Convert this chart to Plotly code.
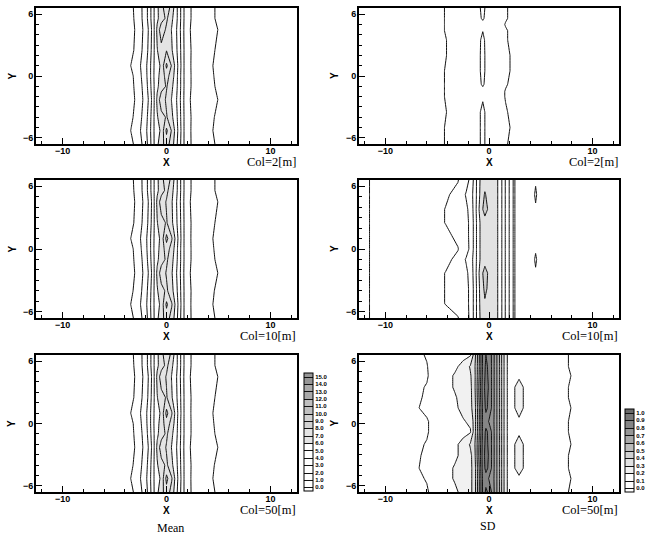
import plotly.graph_objects as go

W, H = 647, 535

# ---------------- data ----------------
MEAN_X = [-12.6, -4.0, -3.4, -2.8, -2.2, -1.7, -1.3, -0.9, -0.5, 0.0, 0.5, 0.9, 1.3, 1.7, 2.2, 3.0, 4.0, 5.2, 12.6]
MEAN_Y = [-6.6, -5.3, -4.0, -2.3, -1.0, 0.0, 1.0, 2.5, 4.5, 5.6, 6.6]

MEAN_COL2 = [
    [0.05, 0.3, 0.75, 1.45, 2.2, 3.3, 4.7, 5.8, 6.6, 7.5, 6.5, 5.4, 4.2, 2.95, 2.1, 1.6, 1.3, 0.75, 0.05],
    [0.05, 0.35, 1.05, 1.6, 2.4, 3.4, 4.8, 5.6, 6.2, 8.2, 6.9, 5.6, 4.3, 2.95, 2.1, 1.55, 1.25, 0.6, 0.05],
    [0.05, 0.3, 0.8, 1.45, 2.25, 3.3, 4.7, 5.9, 6.6, 7.1, 6.2, 5.4, 4.2, 2.95, 2.1, 1.6, 1.3, 0.7, 0.05],
    [0.05, 0.3, 0.6, 1.3, 2.1, 3.1, 4.5, 6.2, 7.7, 6.8, 5.95, 5.2, 4.1, 2.9, 2.05, 1.6, 1.35, 0.9, 0.05],
    [0.05, 0.3, 0.7, 1.4, 2.2, 3.3, 4.7, 5.8, 6.5, 7.1, 6.2, 5.4, 4.2, 2.95, 2.1, 1.6, 1.3, 0.75, 0.05],
    [0.05, 0.3, 0.75, 1.5, 2.3, 3.4, 4.8, 5.7, 6.4, 7.4, 6.5, 5.5, 4.2, 2.95, 2.1, 1.6, 1.3, 0.65, 0.05],
    [0.05, 0.35, 1.05, 1.6, 2.4, 3.4, 4.8, 5.6, 6.2, 8.2, 6.9, 5.6, 4.3, 2.95, 2.1, 1.55, 1.25, 0.6, 0.05],
    [0.05, 0.3, 0.7, 1.4, 2.2, 3.2, 4.6, 5.95, 6.6, 6.95, 6.1, 5.3, 4.2, 2.95, 2.1, 1.6, 1.3, 0.75, 0.05],
    [0.05, 0.3, 0.6, 1.3, 2.1, 3.1, 4.5, 6.2, 7.7, 6.8, 5.95, 5.2, 4.1, 2.9, 2.05, 1.6, 1.35, 0.9, 0.05],
    [0.05, 0.3, 0.7, 1.4, 2.2, 3.3, 4.7, 5.8, 6.5, 7.2, 6.2, 5.4, 4.2, 2.95, 2.1, 1.6, 1.3, 0.75, 0.05],
    [0.05, 0.3, 0.75, 1.45, 2.2, 3.3, 4.7, 5.8, 6.6, 7.6, 6.6, 5.4, 4.2, 2.95, 2.1, 1.6, 1.3, 0.75, 0.05],
]

MEAN_COL10 = [
    [0.05, 0.3, 0.75, 1.45, 2.2, 3.3, 4.7, 5.8, 6.6, 7.5, 6.6, 5.5, 4.2, 2.95, 2.1, 1.6, 1.3, 0.75, 0.05],
    [0.05, 0.35, 1.05, 1.6, 2.4, 3.4, 4.8, 5.6, 6.3, 8.2, 7.1, 5.7, 4.3, 2.95, 2.1, 1.55, 1.25, 0.6, 0.05],
    [0.05, 0.3, 0.8, 1.45, 2.25, 3.3, 4.7, 5.9, 6.6, 7.2, 6.3, 5.4, 4.2, 2.95, 2.1, 1.6, 1.3, 0.7, 0.05],
    [0.05, 0.3, 0.6, 1.3, 2.1, 3.1, 4.5, 6.2, 7.6, 6.9, 6.1, 5.2, 4.1, 2.9, 2.05, 1.6, 1.35, 0.9, 0.05],
    [0.05, 0.3, 0.7, 1.4, 2.2, 3.3, 4.7, 5.8, 6.5, 7.2, 6.3, 5.4, 4.2, 2.95, 2.1, 1.6, 1.3, 0.75, 0.05],
    [0.05, 0.3, 0.75, 1.5, 2.3, 3.4, 4.8, 5.7, 6.4, 7.5, 6.6, 5.5, 4.2, 2.95, 2.1, 1.6, 1.3, 0.65, 0.05],
    [0.05, 0.35, 1.05, 1.6, 2.4, 3.4, 4.8, 5.6, 6.3, 8.3, 7.1, 5.7, 4.3, 2.95, 2.1, 1.55, 1.25, 0.6, 0.05],
    [0.05, 0.3, 0.7, 1.4, 2.2, 3.2, 4.6, 5.95, 6.6, 7.1, 6.2, 5.3, 4.2, 2.95, 2.1, 1.6, 1.3, 0.75, 0.05],
    [0.05, 0.3, 0.6, 1.3, 2.1, 3.1, 4.5, 6.2, 7.6, 6.9, 6.1, 5.2, 4.1, 2.9, 2.05, 1.6, 1.35, 0.9, 0.05],
    [0.05, 0.3, 0.7, 1.4, 2.2, 3.3, 4.7, 5.8, 6.5, 7.3, 6.3, 5.4, 4.2, 2.95, 2.1, 1.6, 1.3, 0.75, 0.05],
    [0.05, 0.3, 0.75, 1.45, 2.2, 3.3, 4.7, 5.8, 6.6, 7.6, 6.7, 5.4, 4.2, 2.95, 2.1, 1.6, 1.3, 0.75, 0.05],
]

MEAN_COL50 = [
    [0.05, 0.3, 0.75, 1.45, 2.2, 3.3, 4.7, 5.8, 6.6, 7.6, 6.6, 5.4, 4.2, 2.95, 2.1, 1.6, 1.3, 0.75, 0.05],
    [0.05, 0.35, 1.05, 1.6, 2.4, 3.4, 4.8, 5.6, 6.2, 8.3, 7.1, 5.6, 4.3, 2.95, 2.1, 1.55, 1.25, 0.6, 0.05],
    [0.05, 0.3, 0.8, 1.45, 2.25, 3.3, 4.7, 5.9, 6.6, 7.2, 6.2, 5.4, 4.2, 2.95, 2.1, 1.6, 1.3, 0.7, 0.05],
    [0.05, 0.3, 0.6, 1.3, 2.1, 3.1, 4.5, 6.2, 7.6, 6.9, 5.95, 5.2, 4.1, 2.9, 2.05, 1.6, 1.35, 0.9, 0.05],
    [0.05, 0.3, 0.7, 1.4, 2.2, 3.3, 4.7, 5.8, 6.5, 7.2, 6.2, 5.4, 4.2, 2.95, 2.1, 1.6, 1.3, 0.75, 0.05],
    [0.05, 0.3, 0.75, 1.5, 2.3, 3.4, 4.8, 5.7, 6.4, 7.6, 6.6, 5.5, 4.2, 2.95, 2.1, 1.6, 1.3, 0.65, 0.05],
    [0.05, 0.35, 1.05, 1.6, 2.4, 3.4, 4.8, 5.6, 6.2, 8.3, 7.1, 5.6, 4.3, 2.95, 2.1, 1.55, 1.25, 0.6, 0.05],
    [0.05, 0.3, 0.7, 1.4, 2.2, 3.2, 4.6, 5.95, 6.6, 7.1, 6.1, 5.3, 4.2, 2.95, 2.1, 1.6, 1.3, 0.75, 0.05],
    [0.05, 0.3, 0.6, 1.3, 2.1, 3.1, 4.5, 6.2, 7.6, 6.9, 5.95, 5.2, 4.1, 2.9, 2.05, 1.6, 1.35, 0.9, 0.05],
    [0.05, 0.3, 0.7, 1.4, 2.2, 3.3, 4.7, 5.8, 6.5, 7.3, 6.2, 5.4, 4.2, 2.95, 2.1, 1.6, 1.3, 0.75, 0.05],
    [0.05, 0.3, 0.75, 1.45, 2.2, 3.3, 4.7, 5.8, 6.6, 7.7, 6.7, 5.4, 4.2, 2.95, 2.1, 1.6, 1.3, 0.75, 0.05],
]

SD2_X = [-12.6, -6.0, -4.6, -4.0, -2.5, -1.2, -0.6, 0.0, 1.0, 1.6, 2.2, 3.5, 12.6]
SD2_Y = [-6.6, -5.0, -3.5, -2.0, -1.5, -0.8, 0.5, 2.0, 3.5, 4.4, 5.0, 5.6, 6.6]
SD_COL2 = [
    [0.01, 0.025, 0.04, 0.06, 0.075, 0.085, 0.11, 0.08, 0.07, 0.055, 0.04, 0.025, 0.01],
    [0.01, 0.025, 0.04, 0.06, 0.075, 0.085, 0.11, 0.08, 0.07, 0.055, 0.048, 0.025, 0.01],
    [0.01, 0.025, 0.04, 0.052, 0.075, 0.085, 0.11, 0.08, 0.07, 0.055, 0.04, 0.025, 0.01],
    [0.01, 0.025, 0.04, 0.06, 0.075, 0.085, 0.095, 0.08, 0.07, 0.047, 0.04, 0.025, 0.01],
    [0.01, 0.025, 0.04, 0.06, 0.075, 0.085, 0.09, 0.08, 0.07, 0.047, 0.04, 0.025, 0.01],
    [0.01, 0.025, 0.04, 0.06, 0.075, 0.085, 0.105, 0.08, 0.07, 0.055, 0.04, 0.025, 0.01],
    [0.01, 0.025, 0.04, 0.06, 0.075, 0.085, 0.11, 0.08, 0.07, 0.055, 0.048, 0.025, 0.01],
    [0.01, 0.025, 0.04, 0.052, 0.075, 0.085, 0.11, 0.08, 0.07, 0.055, 0.048, 0.025, 0.01],
    [0.01, 0.025, 0.04, 0.052, 0.075, 0.085, 0.108, 0.08, 0.07, 0.055, 0.04, 0.025, 0.01],
    [0.01, 0.025, 0.04, 0.06, 0.075, 0.085, 0.099, 0.08, 0.07, 0.055, 0.04, 0.025, 0.01],
    [0.01, 0.025, 0.04, 0.06, 0.075, 0.085, 0.09, 0.08, 0.07, 0.047, 0.04, 0.025, 0.01],
    [0.01, 0.025, 0.04, 0.06, 0.075, 0.085, 0.105, 0.08, 0.07, 0.055, 0.04, 0.025, 0.01],
    [0.01, 0.025, 0.04, 0.06, 0.075, 0.085, 0.11, 0.08, 0.07, 0.055, 0.04, 0.025, 0.01],
]

SD10_X = [-12.6, -11.0, -6.0, -4.2, -3.0, -2.2, -1.75, -1.45, -1.15, -0.8, -0.4, 0.0, 0.4, 0.8, 1.1, 1.45, 1.75, 2.05, 2.3, 2.6, 4.3, 4.5, 4.7, 12.6]
SD10_Y = [-6.6, -5.2, -3.8, -2.3, -1.0, 0.0, 1.3, 2.5, 3.8, 5.2, 6.6]
SD_COL10 = [
    [0.04, 0.055, 0.075, 0.09, 0.098, 0.13, 0.165, 0.21, 0.26, 0.31, 0.33, 0.33, 0.32, 0.305, 0.27, 0.22, 0.17, 0.14, 0.11, 0.02, 0.03, 0.035, 0.03, 0.02],
    [0.04, 0.055, 0.08, 0.101, 0.115, 0.135, 0.165, 0.21, 0.26, 0.315, 0.345, 0.33, 0.32, 0.305, 0.27, 0.22, 0.17, 0.14, 0.11, 0.02, 0.03, 0.035, 0.03, 0.02],
    [0.04, 0.055, 0.08, 0.101, 0.115, 0.135, 0.165, 0.21, 0.26, 0.32, 0.36, 0.34, 0.32, 0.305, 0.27, 0.22, 0.17, 0.14, 0.11, 0.02, 0.03, 0.035, 0.03, 0.02],
    [0.04, 0.055, 0.08, 0.101, 0.115, 0.14, 0.17, 0.215, 0.265, 0.33, 0.37, 0.34, 0.32, 0.305, 0.27, 0.22, 0.17, 0.14, 0.11, 0.02, 0.03, 0.035, 0.03, 0.02],
    [0.04, 0.055, 0.075, 0.09, 0.11, 0.155, 0.18, 0.215, 0.26, 0.31, 0.33, 0.33, 0.32, 0.305, 0.27, 0.22, 0.17, 0.14, 0.11, 0.02, 0.03, 0.07, 0.03, 0.02],
    [0.04, 0.055, 0.075, 0.09, 0.098, 0.13, 0.165, 0.21, 0.26, 0.31, 0.33, 0.33, 0.32, 0.305, 0.27, 0.22, 0.17, 0.14, 0.11, 0.02, 0.03, 0.035, 0.03, 0.02],
    [0.04, 0.055, 0.075, 0.09, 0.11, 0.135, 0.165, 0.21, 0.26, 0.31, 0.325, 0.34, 0.32, 0.305, 0.27, 0.22, 0.17, 0.14, 0.11, 0.02, 0.03, 0.035, 0.03, 0.02],
    [0.04, 0.055, 0.08, 0.101, 0.115, 0.135, 0.165, 0.21, 0.26, 0.31, 0.33, 0.33, 0.32, 0.305, 0.27, 0.22, 0.17, 0.14, 0.11, 0.02, 0.03, 0.035, 0.03, 0.02],
    [0.04, 0.055, 0.08, 0.101, 0.115, 0.14, 0.17, 0.215, 0.265, 0.33, 0.37, 0.34, 0.32, 0.305, 0.27, 0.22, 0.17, 0.14, 0.11, 0.02, 0.03, 0.035, 0.03, 0.02],
    [0.04, 0.055, 0.08, 0.095, 0.11, 0.155, 0.18, 0.215, 0.26, 0.315, 0.355, 0.33, 0.32, 0.305, 0.27, 0.22, 0.17, 0.14, 0.11, 0.02, 0.03, 0.07, 0.03, 0.02],
    [0.04, 0.055, 0.075, 0.09, 0.098, 0.13, 0.165, 0.21, 0.26, 0.31, 0.33, 0.33, 0.32, 0.305, 0.27, 0.22, 0.17, 0.14, 0.11, 0.02, 0.03, 0.035, 0.03, 0.02],
]

SD50_X = [-12.6, -8.0, -6.0, -4.5, -3.3, -2.5, -1.8, -1.45, -1.2, -0.9, -0.6, -0.3, 0.0, 0.3, 0.6, 0.9, 1.2, 1.5, 1.8, 2.4, 2.9, 3.4, 5.0, 9.0, 12.6]
SD50_Y = [-6.6, -5.3, -4.3, -3.1, -2.0, -0.8, 0.2, 1.5, 2.5, 3.5, 4.6, 5.5, 6.6]
SD_COL50 = [
    [0.05, 0.08, 0.095, 0.14, 0.18, 0.23, 0.28, 0.33, 0.45, 0.62, 0.82, 0.92, 0.88, 0.78, 0.66, 0.55, 0.41, 0.28, 0.19, 0.15, 0.16, 0.15, 0.14, 0.08, 0.05],
    [0.05, 0.08, 0.103, 0.15, 0.21, 0.24, 0.28, 0.33, 0.45, 0.62, 0.82, 0.86, 0.79, 0.76, 0.66, 0.55, 0.41, 0.28, 0.19, 0.15, 0.16, 0.15, 0.14, 0.085, 0.05],
    [0.05, 0.08, 0.112, 0.15, 0.21, 0.24, 0.28, 0.33, 0.45, 0.63, 0.84, 0.93, 0.88, 0.78, 0.66, 0.55, 0.41, 0.28, 0.19, 0.18, 0.29, 0.18, 0.14, 0.08, 0.05],
    [0.05, 0.08, 0.108, 0.14, 0.18, 0.23, 0.28, 0.34, 0.47, 0.65, 0.85, 0.94, 0.89, 0.78, 0.66, 0.55, 0.41, 0.28, 0.19, 0.18, 0.29, 0.18, 0.14, 0.08, 0.05],
    [0.05, 0.08, 0.103, 0.14, 0.18, 0.23, 0.31, 0.36, 0.47, 0.64, 0.84, 0.93, 0.88, 0.78, 0.66, 0.55, 0.41, 0.28, 0.19, 0.18, 0.29, 0.18, 0.14, 0.085, 0.05],
    [0.05, 0.08, 0.095, 0.14, 0.16, 0.17, 0.19, 0.33, 0.45, 0.62, 0.82, 0.92, 0.88, 0.78, 0.66, 0.55, 0.41, 0.28, 0.19, 0.15, 0.16, 0.15, 0.14, 0.08, 0.05],
    [0.05, 0.08, 0.095, 0.14, 0.17, 0.19, 0.22, 0.33, 0.45, 0.62, 0.82, 0.86, 0.79, 0.76, 0.66, 0.55, 0.41, 0.28, 0.19, 0.15, 0.16, 0.15, 0.14, 0.08, 0.05],
    [0.05, 0.08, 0.112, 0.14, 0.18, 0.23, 0.28, 0.33, 0.45, 0.62, 0.82, 0.92, 0.88, 0.78, 0.66, 0.55, 0.41, 0.28, 0.19, 0.18, 0.29, 0.18, 0.14, 0.085, 0.05],
    [0.05, 0.08, 0.106, 0.14, 0.19, 0.235, 0.28, 0.34, 0.46, 0.64, 0.84, 0.93, 0.88, 0.78, 0.66, 0.55, 0.41, 0.28, 0.19, 0.18, 0.29, 0.18, 0.14, 0.08, 0.05],
    [0.05, 0.08, 0.103, 0.15, 0.21, 0.24, 0.28, 0.35, 0.47, 0.65, 0.85, 0.94, 0.89, 0.78, 0.66, 0.55, 0.41, 0.28, 0.19, 0.18, 0.29, 0.18, 0.14, 0.08, 0.05],
    [0.05, 0.08, 0.095, 0.15, 0.21, 0.24, 0.29, 0.35, 0.46, 0.63, 0.83, 0.93, 0.88, 0.78, 0.66, 0.55, 0.41, 0.28, 0.19, 0.15, 0.16, 0.15, 0.14, 0.085, 0.05],
    [0.05, 0.08, 0.098, 0.14, 0.18, 0.23, 0.31, 0.36, 0.46, 0.62, 0.82, 0.92, 0.88, 0.78, 0.66, 0.55, 0.41, 0.28, 0.19, 0.15, 0.16, 0.15, 0.14, 0.08, 0.05],
    [0.05, 0.08, 0.103, 0.14, 0.16, 0.17, 0.19, 0.33, 0.45, 0.62, 0.82, 0.90, 0.86, 0.78, 0.66, 0.55, 0.41, 0.28, 0.19, 0.15, 0.16, 0.15, 0.14, 0.08, 0.05],
]

MEAN_TICKS = [float(v) for v in range(0, 16)]
SD_TICKS = [0.0, 0.1, 0.2, 0.3, 0.4, 0.5, 0.6, 0.7, 0.8, 0.9, 1.0]
COL_LABELS = ["Col=2[m]", "Col=10[m]", "Col=50[m]"]
COLUMN_TITLES = ["Mean", "SD"]

# ---------------- styles ----------------
MEAN_BAND_COLORS = ["#ffffff"] * 7 + ["#e4e4e4"] * 2 + ["#d2d2d2"] * 2 + ["#c0c0c0"] * 2 + ["#aaaaaa"] * 2 + ["#969696"] * 2
SD50_BAND_COLORS = ["#ffffff"] * 3 + ["#f1f1f1", "#e2e2e2", "#d0d0d0", "#bcbcbc", "#a8a8a8", "#969696", "#858585", "#777777", "#6a6a6a"]
SD10_BAND_COLORS = ["#ffffff"] * 7 + ["#e2e2e2", "#cfcfcf", "#c0c0c0", "#c0c0c0", "#c0c0c0"]
SD2_BAND_COLORS = ["#ffffff"] * 12


def scale(colors):
    n = len(colors) - 1
    return [[k / n, c] for k, c in enumerate(colors)]


def fx(p):
    return p / W


def fy(p):
    return 1 - p / H


COL_PX = [(36, 297), (359, 619)]
ROW_PX = [(8, 144), (180, 318), (355, 492)]
YLAB_X = [11.5, 334]

panels = [
    (0, 0, MEAN_X, MEAN_Y, MEAN_COL2, (0, 15, 1), MEAN_BAND_COLORS),
    (0, 1, SD2_X, SD2_Y, SD_COL2, (0, 0.5, 0.05), SD2_BAND_COLORS),
    (1, 0, MEAN_X, MEAN_Y, MEAN_COL10, (0, 15, 1), MEAN_BAND_COLORS),
    (1, 1, SD10_X, SD10_Y, SD_COL10, (0, 0.5, 0.05), SD10_BAND_COLORS),
    (2, 0, MEAN_X, MEAN_Y, MEAN_COL50, (0, 15, 1), MEAN_BAND_COLORS),
    (2, 1, SD50_X, SD50_Y, SD_COL50, (0, 1.0, 0.1), SD50_BAND_COLORS),
]

fig = go.Figure()
layout = dict(
    width=W, height=H, autosize=False,
    margin=dict(l=0, r=0, t=0, b=0),
    paper_bgcolor="white", plot_bgcolor="white",
    showlegend=False,
)
annotations = []
tickfont = dict(family="Liberation Sans", size=9, color="black", weight="bold")
cbfont = dict(family="Liberation Sans", size=6, color="black", weight="bold")

for i, (r, c, xs, ys, zz, (s, e, sz), bands) in enumerate(panels):
    n = i + 1
    xa = "x" if n == 1 else f"x{n}"
    ya = "y" if n == 1 else f"y{n}"
    cb = None
    show = r == 2
    if show and c == 0:
        cb = dict(x=fx(304), xanchor="left", y=fy(432), yanchor="middle",
                  len=118 / H, lenmode="fraction", thickness=9, thicknessmode="pixels",
                  outlinewidth=1, outlinecolor="black", xpad=0, ypad=0,
                  tickmode="array", tickvals=MEAN_TICKS,
                  ticktext=[f"{v:.1f}" for v in MEAN_TICKS], ticks="", tickfont=cbfont)
    elif show and c == 1:
        cb = dict(x=fx(625), xanchor="left", y=fy(450.5), yanchor="middle",
                  len=83 / H, lenmode="fraction", thickness=9, thicknessmode="pixels",
                  outlinewidth=1, outlinecolor="black", xpad=0, ypad=0,
                  tickmode="array", tickvals=SD_TICKS,
                  ticktext=[f"{v:.1f}" for v in SD_TICKS], ticks="", tickfont=cbfont)
    fig.add_trace(go.Contour(
        x=xs, y=ys, z=zz, xaxis=xa, yaxis=ya,
        autocontour=False,
        contours=dict(start=s, end=e, size=sz, coloring="fill", showlines=True),
        line=dict(color="#111111", width=1, smoothing=0),
        colorscale=scale(bands),
        showscale=show, colorbar=cb, hoverinfo="skip",
    ))
    x0, x1 = COL_PX[c]
    y0, y1 = ROW_PX[r]
    axkey_x = "xaxis" if n == 1 else f"xaxis{n}"
    axkey_y = "yaxis" if n == 1 else f"yaxis{n}"
    layout[axkey_x] = dict(
        domain=[fx(x0), fx(x1)], anchor=ya, range=[-12.55, 12.55],
        showline=True, linewidth=2, linecolor="black", mirror=True,
        ticks="inside", ticklen=6, tickwidth=1.2, tickcolor="black",
        tickvals=[-10, 0, 10], showgrid=False, zeroline=False,
        minor=dict(dtick=2, tick0=0, ticks="inside", ticklen=3, tickwidth=1, tickcolor="black", showgrid=False),
        tickfont=tickfont, ticklabelstandoff=-3,
    )
    layout[axkey_y] = dict(
        domain=[fy(y1), fy(y0)], anchor=xa, range=[-6.6, 6.6],
        showline=True, linewidth=2, linecolor="black", mirror=True,
        ticks="inside", ticklen=6, tickwidth=1.2, tickcolor="black",
        tickvals=[-6, 0, 6], showgrid=False, zeroline=False,
        minor=dict(dtick=1, tick0=0, ticks="inside", ticklen=3, tickwidth=1, tickcolor="black", showgrid=False),
        tickfont=tickfont, ticklabelstandoff=-1,
    )
    xc = x0 + (x1 - x0) * 12.55 / 25.1
    annotations.append(dict(x=fx(xc), y=fy(y1 + 18.5), xref="paper", yref="paper",
                            text="X", showarrow=False, xanchor="center", yanchor="middle",
                            font=dict(family="Liberation Sans", size=10, color="black", weight="bold")))
    annotations.append(dict(x=fx(YLAB_X[c]), y=fy((y0 + y1) / 2), xref="paper", yref="paper",
                            text="Y", showarrow=False, xanchor="center", yanchor="middle", textangle=-90,
                            font=dict(family="Liberation Sans", size=10, color="black", weight="bold")))
    annotations.append(dict(x=fx(x1 + 1), y=fy(y1 + 18), xref="paper", yref="paper",
                            text=COL_LABELS[r], showarrow=False, xanchor="right", yanchor="middle",
                            font=dict(family="Liberation Serif", size=12.5, color="black")))

annotations.append(dict(x=fx(170), y=fy(527.5), xref="paper", yref="paper", text=COLUMN_TITLES[0],
                        showarrow=False, xanchor="center", yanchor="middle",
                        font=dict(family="Liberation Serif", size=12, color="black")))
annotations.append(dict(x=fx(488), y=fy(526), xref="paper", yref="paper", text=COLUMN_TITLES[1],
                        showarrow=False, xanchor="center", yanchor="middle",
                        font=dict(family="Liberation Serif", size=12, color="black")))
layout["annotations"] = annotations
fig.update_layout(**layout)
fig.write_html("out.html")
